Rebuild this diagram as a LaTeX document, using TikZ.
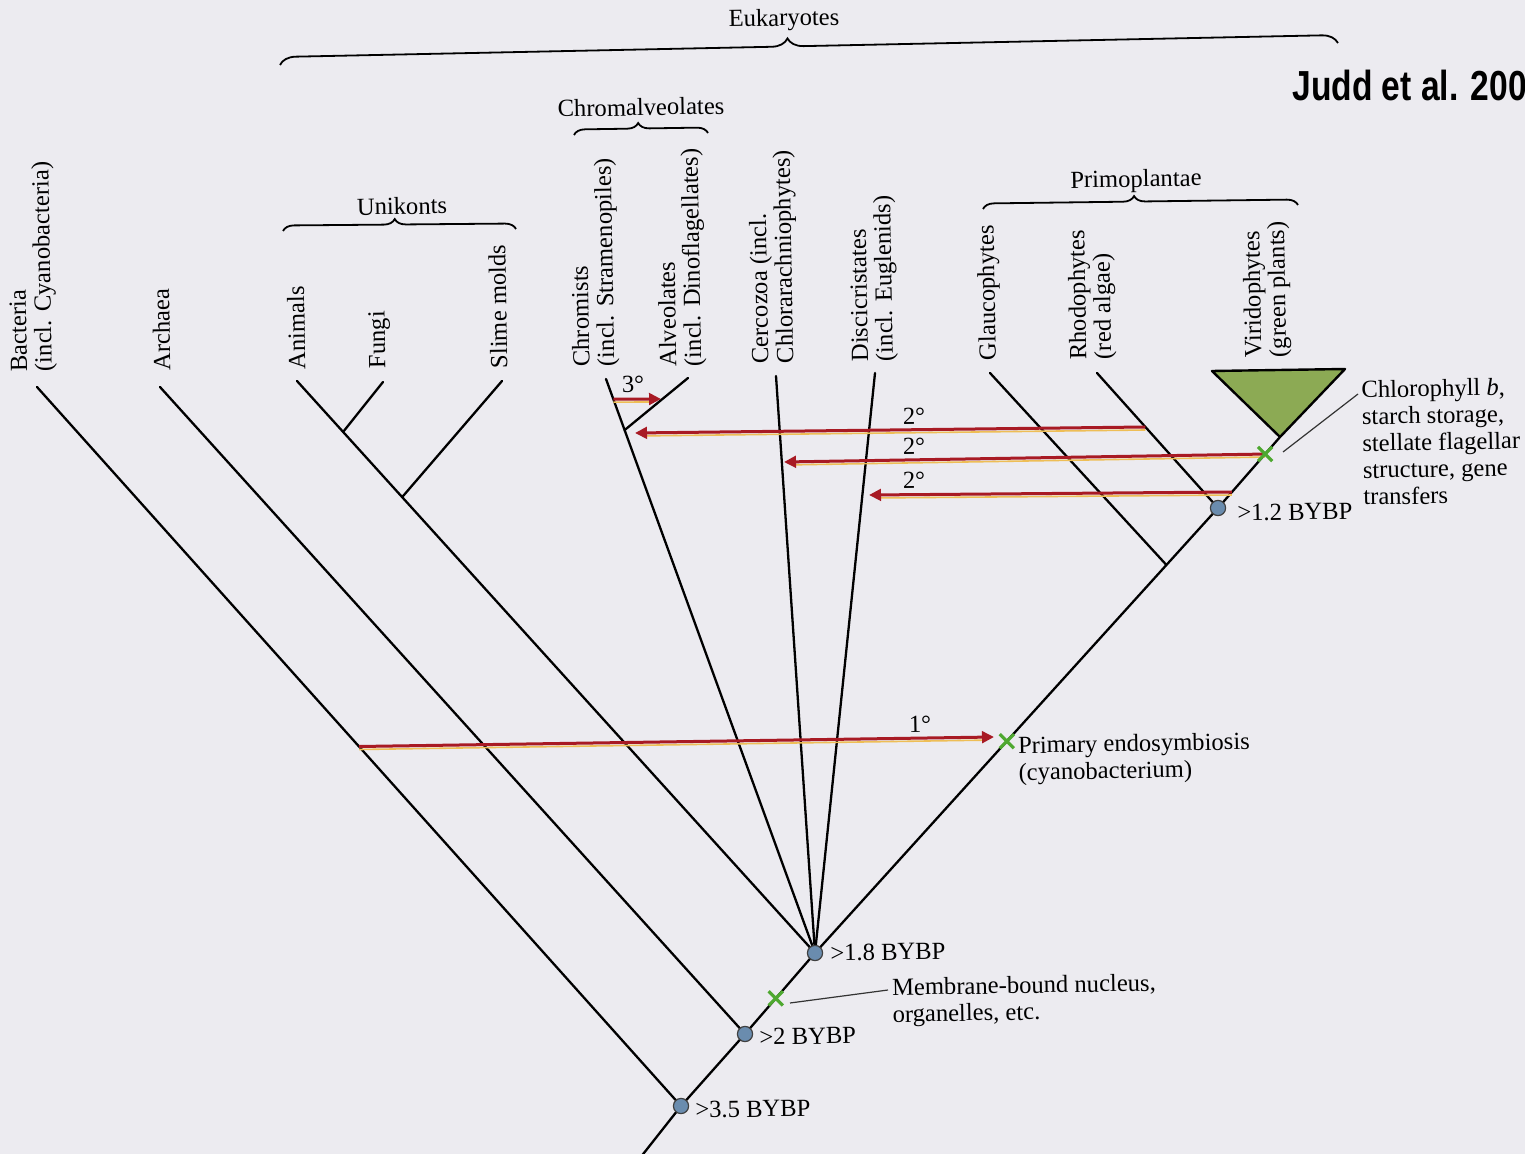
\documentclass[tikz,border=0pt]{standalone}
\usepackage{fontspec}
\setmainfont{Liberation Serif}
\newfontfamily\headfont{Liberation Sans}
\usetikzlibrary{arrows.meta,decorations.pathreplacing,shapes.misc,calc}

\definecolor{paper}{RGB}{236,235,240}
\definecolor{transred}{RGB}{168,26,36}
\definecolor{transyel}{RGB}{238,190,86}
\definecolor{synapo}{RGB}{78,168,48}
\definecolor{greenclade}{RGB}{140,170,84}
\definecolor{agefill}{RGB}{106,140,174}

\begin{document}
\begin{tikzpicture}[x=0.5pt,y=-0.5pt,
  branch/.style={line width=1.15pt, black, line cap=round},
  cladebrace/.style={decorate, decoration={brace, amplitude=#1, aspect=0.48}, line width=0.9pt},
  cladebrace/.default=5.5pt,
  vlab/.style={rotate=91, anchor=west, align=left, inner sep=0pt,
    font=\fontsize{12.3}{12.4}\selectfont},
  hlab/.style={rotate=1, inner sep=0pt, align=left,
    font=\fontsize{12.3}{13.4}\selectfont},
  bybpdot/.style={circle, draw=black!75, line width=0.6pt, fill=agefill,
    minimum size=7.6pt, inner sep=0pt},
  synmark/.style={cross out, draw=synapo, line width=1.6pt, minimum size=5.5pt, inner sep=0pt},
  transfer/.style={draw=transred, line width=1.5pt, -{Triangle[length=6pt,width=5.8pt]},
    preaction={draw=transyel, line width=0.8pt, -, transform canvas={yshift=-1.5pt}, shorten >=5pt}},
  callout/.style={draw=black!80, line width=0.6pt}
]
\useasboundingbox (0,0) rectangle (1525,1154);
\fill[paper] (0,0) rectangle (1525,1154);

% ---- branch points ----
\coordinate (root) at (640,1158);
\coordinate (n35) at (681,1106);
\coordinate (n2)  at (745,1034);
\coordinate (n18) at (815,953);
\coordinate (n12) at (1218,508);
\coordinate (gJ)  at ($(n18)!0.872!(n12)$);

% ---- tips ----
\coordinate (bacTop)   at (37,387);
\coordinate (arcTop)   at (160,387);
\coordinate (aniTop)   at (297,381);
\coordinate (fungiTop) at (383,382);
\coordinate (slimeTop) at (502,381);
\coordinate (chrTop)   at (606,379);
\coordinate (alvTop)   at (688,378);
\coordinate (cerTop)   at (776,376);
\coordinate (disTop)   at (875,373);
\coordinate (glaTop)   at (990,373);
\coordinate (rhoTop)   at (1097,373);
\coordinate (viriApex) at (1280,437);
\coordinate (triL)     at (1212,371);
\coordinate (triR)     at (1345,369);

\coordinate (fungiJ) at ($(n18)!0.911!(aniTop)$);
\coordinate (slimeJ) at ($(n18)!0.797!(aniTop)$);
\coordinate (alvJ)   at ($(n18)!0.911!(chrTop)$);

% ---- tree ----
\draw[branch] (root) -- (n35) -- (n2) -- (n18) -- (gJ) -- (n12) -- (viriApex);
\draw[branch] (n35) -- (bacTop);
\draw[branch] (n2) -- (arcTop);
\draw[branch] (n18) -- (aniTop);
\draw[branch] (fungiJ) -- (fungiTop);
\draw[branch] (slimeJ) -- (slimeTop);
\draw[branch] (n18) -- (chrTop);
\draw[branch] (alvJ) -- (alvTop);
\draw[branch] (n18) -- (cerTop);
\draw[branch] (n18) -- (disTop);
\draw[branch] (gJ) -- (glaTop);
\draw[branch] (n12) -- (rhoTop);
\draw[line width=1.2pt, line join=round, fill=greenclade] (triL) -- (triR) -- (viriApex) -- cycle;

% ---- tip labels ----
\node[vlab] (lbBac) at (34,372)   {Bacteria\\(incl. Cyanobacteria)};
\node[vlab] (lbArc) at (162,371)  {Archaea};
\node[vlab] (lbAni) at (297,370)  {Animals};
\node[vlab] (lbFun) at (380,369)  {Fungi};
\node[vlab] (lbSli) at (499,369)  {Slime molds};
\node[vlab] (lbChr) at (596,367)  {Chromists\\(incl. Stramenopiles)};
\node[vlab] (lbAlv) at (683,367)  {Alveolates\\(incl. Dinoflagellates)};
\node[vlab] (lbCer) at (775,364)  {Cercozoa (incl.\\Chlorarachniophytes)};
\node[vlab] (lbDis) at (875,362)  {Discicristates\\(incl. Euglenids)};
\node[vlab] (lbGla) at (990,361)  {Glaucophytes};
\node[vlab] (lbRho) at (1093,360) {Rhodophytes\\(red algae)};
\node[vlab] (lbVir) at (1268,358) {Viridophytes\\(green plants)};

% ---- clade braces ----
\coordinate (eukL) at (280,65);   \coordinate (eukR) at (1338,43);
\coordinate (chaL) at (574,135);  \coordinate (chaR) at (708,133);
\coordinate (uniL) at (283,231);  \coordinate (uniR) at (516,229);
\coordinate (priL) at (983,209);  \coordinate (priR) at (1298,205);
\draw[cladebrace=8pt] (eukL) -- (eukR);
\draw[cladebrace] (chaL) -- (chaR);
\draw[cladebrace] (uniL) -- (uniR);
\draw[cladebrace] (priL) -- (priR);
\node[hlab] (lbEuk) at (784,20)   {Eukaryotes};
\node[hlab] (lbCha) at (641,107)  {Chromalveolates};
\node[hlab] (lbUni) at (402,206)  {Unikonts};
\node[hlab] (lbPri) at (1136,181) {Primoplantae};

% ---- character changes ----
\coordinate (xNuc)  at ($(n2)!0.44!(n18)$);
\coordinate (xPrim) at ($(n18)!0.476!(n12)$);
\coordinate (xViri) at ($(n12)!0.76!(viriApex)$);

% ---- endosymbiotic transfers ----
\coordinate (t3s) at ($(n18)!0.965!(chrTop)$);  \coordinate (t3e) at (661,399);
\coordinate (t2as) at ($(n12)!0.6!(rhoTop)$);   \coordinate (t2ae) at (635,433);
\coordinate (t2cs) at ($(n12)!0.225!(viriApex)$); \coordinate (t2ce) at (869,495);
\coordinate (t2be) at (784,462);
\coordinate (t1s) at ($(n35)!0.5!(bacTop)$);    \coordinate (t1e) at (994,737);
\draw[transfer] (t3s) -- (t3e);
\draw[transfer] (t2as) -- (t2ae);
\draw[transfer] (xViri) -- (t2be);
\draw[transfer] (t2cs) -- (t2ce);
\draw[transfer] (t1s) -- (t1e);
\node[hlab] (lb3)  at (633,384) {3°};
\node[hlab] (lb2a) at (914,416) {2°};
\node[hlab] (lb2b) at (914,446) {2°};
\node[hlab] (lb2c) at (914,480) {2°};
\node[hlab] (lb1)  at (920,724) {1°};

\node[synmark] (mNuc)  at (xNuc)  {};
\node[synmark] (mPrim) at (xPrim) {};
\node[synmark] (mViri) at (xViri) {};

% ---- annotations ----
\node[hlab, anchor=west] (lbChl) at (1362,443)
  {Chlorophyll \textit{b},\\starch storage,\\stellate flagellar\\structure, gene\\transfers};
\coordinate (chlA) at (1283,452); \coordinate (chlB) at (1358,394);
\draw[callout] (chlA) -- (chlB);
\node[hlab, anchor=west] (lbPrim) at (1018,761) {Primary endosymbiosis\\(cyanobacterium)};
\node[hlab, anchor=west] (lbMem) at (892,1003) {Membrane-bound nucleus,\\organelles, etc.};
\coordinate (memA) at (790,1003); \coordinate (memB) at (888,990);
\draw[callout] (memA) -- (memB);

% ---- dated nodes ----
\node[bybpdot] (d35) at (n35) {};
\node[bybpdot] (d2)  at (n2)  {};
\node[bybpdot] (d18) at (n18) {};
\node[bybpdot] (d12) at (n12) {};
\node[hlab, anchor=west] (lb35) at (695,1110) {>3.5 BYBP};
\node[hlab, anchor=west] (lb2)  at (759,1037) {>2 BYBP};
\node[hlab, anchor=west] (lb18) at (830,953)  {>1.8 BYBP};
\node[hlab, anchor=west] (lb12) at (1237,513) {>1.2 BYBP};

% ---- source tag ----
\node[font=\headfont\bfseries\fontsize{21}{21}\selectfont, xscale=0.8,
  anchor=base west, inner sep=0pt] (judd) at (1292,101) {Judd et al. 200};
\end{tikzpicture}
\end{document}
